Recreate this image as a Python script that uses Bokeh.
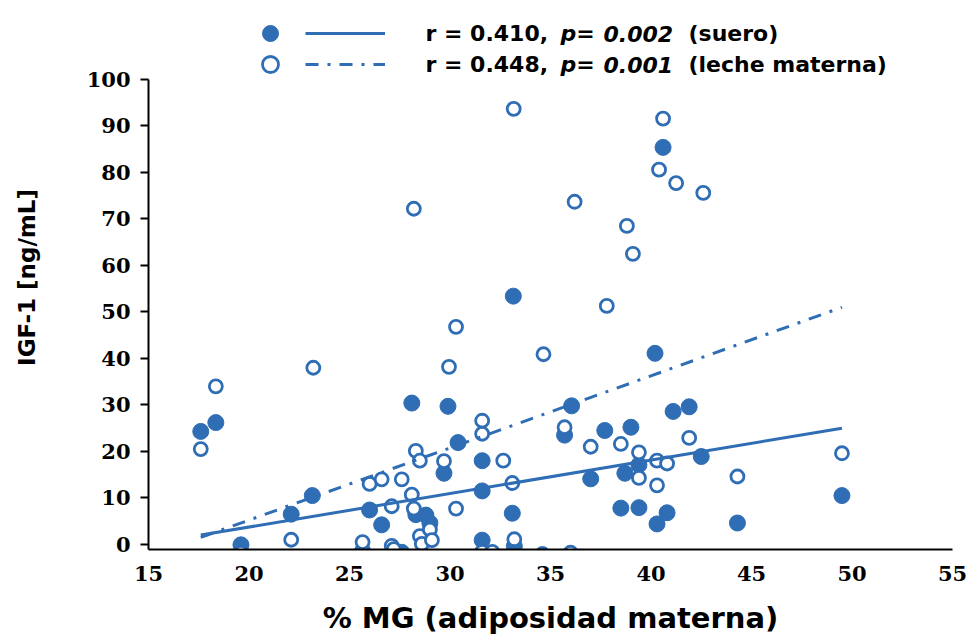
from bokeh.plotting import figure
from bokeh.models import Range1d, FixedTicker, Legend, LegendItem, Label
from bokeh.core.properties import value
from bokeh.embed import file_html
from bokeh.resources import INLINE

# ---- data ----
suero_x = [17.6, 18.35, 19.6, 22.1, 23.15, 25.65, 26.0, 26.6, 27.6, 28.1,
           28.3, 28.8, 29.0, 29.7, 29.9, 30.4, 31.6, 31.6, 31.6, 33.1,
           33.15, 33.2, 34.6, 35.7, 36.05, 37.0, 37.7, 38.5, 38.7, 39.0,
           39.4, 39.4, 40.2, 40.3, 40.6, 40.8, 41.1, 41.9, 42.5, 44.3, 49.5]
suero_y = [24.3, 26.2, -0.1, 6.5, 10.5, -1.4, 7.4, 4.2, -1.7, 30.4,
           6.4, 6.3, 4.6, 15.3, 29.7, 21.9, 18.0, 11.5, 0.9, 6.7,
           53.4, -0.4, -2.2, 23.5, 29.8, 14.1, 24.5, 7.8, 15.3, 25.2,
           7.9, 17.1, 41.1, 4.4, 85.4, 6.8, 28.6, 29.6, 18.9, 4.6, 10.5]

leche_x = [17.6, 18.35, 19.6, 22.1, 23.2, 25.65, 26.0, 26.6, 27.1, 27.1,
           27.2, 27.6, 28.1, 28.2, 28.2, 28.3, 28.5, 28.5, 28.6, 29.0,
           29.1, 29.7, 29.95, 30.3, 30.3, 31.6, 31.6, 31.6, 32.1, 32.65,
           33.1, 33.2, 33.17, 34.65, 35.7, 36.0, 36.2, 37.0, 37.8, 38.5,
           38.8, 39.1, 39.4, 39.4, 40.3, 40.3, 40.4, 40.6, 40.8, 41.25,
           41.9, 42.6, 44.3, 49.5]
leche_y = [20.5, 34.0, -1.8, 1.0, 38.0, 0.5, 13.0, 14.0, 8.2, -0.3,
           -1.0, 14.0, 10.7, 7.7, 72.2, 20.1, 18.0, 1.8, 0.1, 3.2,
           0.9, 17.9, 38.2, 46.8, 7.7, 26.6, 23.8, -1.6, -1.6, 18.0,
           13.2, 1.1, 93.7, 40.9, 25.2, -1.8, 73.7, 21.0, 51.3, 21.6,
           68.5, 62.5, 19.8, 14.3, 18.0, 12.7, 80.6, 91.6, 17.4, 77.7,
           22.9, 75.6, 14.6, 19.6]

fit_x = [17.6, 49.5]
fit_suero_y = [2.0, 25.0]
fit_leche_y = [1.5, 51.0]

x_ticks = [15, 20, 25, 30, 35, 40, 45, 50, 55]
y_ticks = [0, 10, 20, 30, 40, 50, 60, 70, 80, 90, 100]

legend_rows = [
    ("r = 0.410,", "p=", "0.002", "(suero)"),
    ("r = 0.448,", "p=", "0.001", "(leche materna)"),
]

BLUE = "#2F6DB5"

# frame spans the canvas top so the legend can sit above the 100 tick;
# the y axis itself is bounded to 0..100
p = figure(width=970, height=642, output_backend="svg", toolbar_location=None,
           x_range=Range1d(15, 55), y_range=Range1d(-1.1, 115.92),
           min_border_left=148, min_border_right=18,
           min_border_top=5, min_border_bottom=93)
p.outline_line_color = None
p.xgrid.visible = False
p.ygrid.visible = False
p.background_fill_color = "white"

r_s = p.scatter(suero_x, suero_y, marker="circle", size=16,
                fill_color=BLUE, line_color=BLUE, line_width=1)
r_l = p.scatter(leche_x, leche_y, marker="circle", size=13,
                fill_color="white", line_color=BLUE, line_width=2.8)
l_s = p.line(fit_x, fit_suero_y, line_color=BLUE, line_width=3)
l_l = p.line(fit_x, fit_leche_y, line_color=BLUE, line_width=3,
             line_dash="13 9 3 9")

# axes
xa = p.xaxis[0]
ya = p.yaxis[0]
xa.ticker = FixedTicker(ticks=x_ticks)
ya.ticker = FixedTicker(ticks=y_ticks)
ya.bounds = (-1.1, 100)
for ax in (xa, ya):
    ax.axis_line_color = "black"
    ax.axis_line_width = 2
    ax.major_tick_line_color = "black"
    ax.major_tick_line_width = 2
    ax.minor_tick_line_color = None
    ax.major_label_text_font = "DejaVu Serif"
    ax.major_label_text_font_style = "bold"
    ax.major_label_text_font_size = "21px"
    ax.major_label_text_color = "black"
    ax.axis_label_text_font = "DejaVu Sans"
    ax.axis_label_text_font_style = "bold"
    ax.axis_label_text_color = "black"
xa.major_tick_out = 0
xa.major_tick_in = 0
xa.major_label_standoff = 16
xa.axis_label = "% MG (adiposidad materna)"
xa.axis_label_text_font_size = "29px"
xa.axis_label_standoff = 17
ya.major_tick_out = 8
ya.major_tick_in = 0
ya.major_label_standoff = 10
ya.axis_label = "IGF-1 [ng/mL]"
ya.axis_label_text_font_size = "23px"
ya.axis_label_standoff = 44

# legend symbols: one small legend per symbol so rows can be placed freely
common = dict(background_fill_alpha=0, border_line_color=None, padding=0, margin=0,
              label_text_font_size="1px", label_standoff=0, label_width=0,
              glyph_height=40)
row_vy = [496, 465]
for rend_m, rend_l, vy in zip([r_s, r_l], [l_s, l_l], row_vy):
    p.add_layout(Legend(items=[LegendItem(label=value(" "), renderers=[rend_m])],
                        location=(102, vy), glyph_width=40, **common), "center")
    p.add_layout(Legend(items=[LegendItem(label=value(" "), renderers=[rend_l])],
                        location=(157, vy), glyph_width=80, **common), "center")

# legend texts
xs = [277, 412, 455, 540]
styles = ["bold", "bold italic", "bold italic", "bold"]
for row, ypos in zip(legend_rows, [516, 485]):
    for txt, xpos, st in zip(row, xs, styles):
        p.add_layout(Label(x=xpos, y=ypos, x_units="screen", y_units="screen",
                           text=txt, text_font="DejaVu Sans", text_font_style=st,
                           text_font_size="22px", text_color="black",
                           text_baseline="middle", text_align="left"))

open("out.html", "w").write(file_html(p, INLINE))
